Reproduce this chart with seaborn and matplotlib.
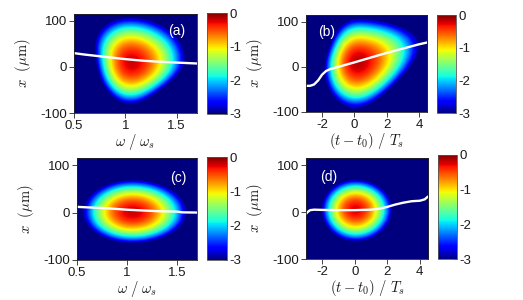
import numpy as np
import matplotlib
matplotlib.use("Agg")
import matplotlib.pyplot as plt
import seaborn as sns

# ---------------- data ----------------
# log10 intensity on coarse grids (values below -3 shown as the darkest colour)
omega_cols = [0.5, 0.65, 0.8, 0.95, 1.1, 1.25, 1.4, 1.55, 1.7]
t_cols = [-3.0, -2.25, -1.5, -0.75, 0.0, 0.75, 1.5, 2.25, 3.0, 3.75, 4.5]

rows_ab = [-100, -70, -40, -10, 20, 50, 80, 110, 140]
rows_cd = [-100, -75, -50, -25, 0, 25, 50, 75, 100, 125]

field_a = [
    [-8, -8, -6.0, -4.2, -4.1, -5.0, -7.0, -8, -8],
    [-8, -7.2, -3.96, -2.3, -2.17, -3.08, -4.9, -7.7, -8],
    [-8, -5.3, -2.43, -0.98, -0.85, -1.44, -2.64, -4.4, -6.9],
    [-8, -4.3, -1.66, -0.30, -0.16, -0.59, -1.46, -2.79, -4.55],
    [-7.3, -3.8, -1.4, -0.21, -0.09, -0.47, -1.26, -2.45, -4.0],
    [-6.3, -3.5, -1.6, -0.63, -0.54, -0.92, -1.68, -2.83, -4.4],
    [-6.2, -3.9, -2.4, -1.6, -1.5, -1.9, -2.6, -3.7, -5.2],
    [-6.9, -5.0, -3.7, -3.0, -3.0, -3.3, -4.1, -5.2, -6.7],
    [-8, -6.96, -5.67, -5.0, -4.96, -5.32, -6.06, -7.17, -8],
]

field_b = [
    [-8, -6.8, -4.9, -3.7, -3.36, -3.68, -4.6, -6.2, -8, -8, -8],
    [-7.9, -5.2, -3.3, -2.16, -1.78, -2.05, -2.86, -4.2, -6.1, -8, -8],
    [-7.1, -4.3, -2.3, -1.1, -0.69, -0.89, -1.5, -2.49, -3.9, -5.7, -7.9],
    [-6.9, -3.9, -1.8, -0.53, -0.11, -0.26, -0.7, -1.43, -2.45, -3.76, -5.4],
    [-7.5, -4.23, -1.9, -0.5, -0.03, -0.14, -0.47, -1.03, -1.8, -2.8, -4.0],
    [-8, -5.4, -2.69, -1.03, -0.48, -0.56, -0.81, -1.23, -1.81, -2.56, -3.48],
    [-8, -6.7, -3.8, -2.06, -1.47, -1.54, -1.74, -2.07, -2.55, -3.16, -3.9],
    [-8, -7.2, -4.9, -3.5, -3.0, -3.07, -3.27, -3.6, -4.1, -4.7, -5.4],
    [-8, -8, -6.9, -5.5, -5.07, -5.14, -5.34, -5.67, -6.15, -6.76, -7.5],
]

field_c = [
    [-8, -8, -7.4, -6.8, -6.7, -7.1, -7.8, -8, -8],
    [-7.2, -5.6, -4.47, -3.86, -3.77, -4.12, -4.88, -6.06, -7.65],
    [-5.16, -3.52, -2.39, -1.79, -1.69, -2.04, -2.8, -3.98, -5.57],
    [-3.9, -2.26, -1.14, -0.53, -0.44, -0.79, -1.55, -2.73, -4.32],
    [-3.49, -1.85, -0.72, -0.12, -0.02, -0.37, -1.13, -2.31, -3.9],
    [-3.85, -2.2, -1.08, -0.47, -0.38, -0.73, -1.49, -2.67, -4.26],
    [-4.9, -3.3, -2.17, -1.56, -1.47, -1.82, -2.58, -3.76, -5.35],
    [-6.7, -5.1, -3.98, -3.37, -3.28, -3.62, -4.39, -5.6, -7.2],
    [-8, -7.6, -6.5, -5.9, -5.8, -6.2, -6.9, -8, -8],
    [-8, -8, -8, -8, -8, -8, -8, -8, -8],
]

field_d = [
    [-8, -8, -8, -6.93, -6.57, -6.87, -7.77, -8, -8, -8, -8],
    [-8, -7.07, -5.26, -4.17, -3.81, -4.11, -5.01, -6.51, -8, -8, -8],
    [-7.6, -5.05, -3.25, -2.16, -1.8, -2.1, -3.0, -4.5, -6.6, -8, -8],
    [-6.33, -3.79, -1.98, -0.9, -0.54, -0.84, -1.74, -3.24, -5.34, -8, -8],
    [-5.8, -3.27, -1.46, -0.38, -0.02, -0.32, -1.22, -2.72, -4.82, -7.5, -8],
    [-6.07, -3.53, -1.72, -0.64, -0.28, -0.58, -1.48, -2.98, -5.08, -7.78, -8],
    [-7.2, -4.65, -2.84, -1.76, -1.4, -1.7, -2.6, -4.1, -6.2, -8, -8],
    [-8, -6.63, -4.82, -3.74, -3.38, -3.68, -4.58, -6.08, -8, -8, -8],
    [-8, -8, -7.65, -6.57, -6.21, -6.51, -7.41, -8, -8, -8, -8],
    [-8, -8, -8, -8, -8, -8, -8, -8, -8, -8, -8],
]

# white centroid curves
line_a_w = [0.5, 0.6, 0.7, 0.8, 0.9, 1.0, 1.1, 1.2, 1.3, 1.4, 1.5, 1.6, 1.7]
line_a_x = [30, 27, 24.5, 22, 19.5, 17, 15, 13.2, 11.8, 10.6, 9.5, 8.5, 7.5]

line_b_t = [-3, -2.75, -2.5, -2.25, -2.0, -1.75, -1.5, -1.0, -0.5, 0, 1, 2, 3, 4, 4.5]
line_b_x = [-42, -42, -39, -30, -17, -9, -5, 0, 5, 10, 20.5, 31, 40.5, 50, 54]

line_c_w = [0.5, 0.6, 0.7, 0.8, 0.9, 1.0, 1.1, 1.2, 1.3, 1.4, 1.5, 1.55, 1.6, 1.7]
line_c_x = [12, 11, 10, 9, 7.5, 6, 5, 4, 3, 2.5, 2, 0.5, 0.3, 0]

line_d_t = [-3, -2.9, -2.75, -2.5, -2, -1, 0, 1, 1.5, 2, 2.5, 3, 3.5, 4, 4.3, 4.5]
line_d_x = [-4, 0, 4, 5, 4.5, 4, 4, 5, 7, 11, 16, 20, 23, 24, 27, 33]

cbar_ticks = [0, -1, -2, -3]
panel_labels = ["(a)", "(b)", "(c)", "(d)"]

# ---------------- style ----------------
sns.set_style("ticks")
plt.rcParams["font.family"] = ["Liberation Sans", "DejaVu Sans"]
plt.rcParams["mathtext.fontset"] = "cm"
plt.rcParams["axes.unicode_minus"] = False

fig = plt.figure(figsize=(5.23, 3.0), dpi=100)

W, H = 523.0, 300.0


def box(l, r, t, b):
    return [l / W, 1 - b / H, (r - l) / W, (b - t) / H]


layout = [
    (box(74, 197, 14, 113), box(207, 227, 13, 114)),
    (box(306, 427, 15, 112), box(437, 456, 15, 113)),
    (box(77, 197, 158, 260), box(207, 227, 157, 260)),
    (box(306, 428, 158, 259), box(438, 457, 155, 259)),
]

panels = [
    (omega_cols, rows_ab, field_a, line_a_w, line_a_x, (0.5, 1.7), [0.5, 1, 1.5], ["0.5", "1", "1.5"],
     r"$\omega\ /\ \omega_s$", (1.5, 78)),
    (t_cols, rows_ab, field_b, line_b_t, line_b_x, (-3, 4.5), [-2, 0, 2, 4], ["-2", "0", "2", "4"],
     r"$(t-t_0)\ /\ T_s$", (-1.7, 78)),
    (omega_cols, rows_cd, field_c, line_c_w, line_c_x, (0.5, 1.7), [0.5, 1, 1.5], ["0.5", "1", "1.5"],
     r"$\omega\ /\ \omega_s$", (1.51, 73)),
    (t_cols, rows_cd, field_d, line_d_t, line_d_x, (-3, 4.5), [-2, 0, 2, 4], ["-2", "0", "2", "4"],
     r"$(t-t_0)\ /\ T_s$", (-1.63, 75)),
]

spine_col = "#262626"
for i, ((cols, rows, field, lx, ly, xlim, xt, xtl, xlab, lab_pos), (apos, cpos)) in enumerate(zip(panels, layout)):
    ax = fig.add_axes(apos)
    cax = fig.add_axes(cpos)
    cols_a = np.asarray(cols, float)
    rows_a = np.asarray(rows, float)
    dc = cols_a[1] - cols_a[0]
    dr = rows_a[1] - rows_a[0]
    ext = [cols_a[0] - dc / 2, cols_a[-1] + dc / 2, rows_a[0] - dr / 2, rows_a[-1] + dr / 2]
    im = ax.imshow(np.asarray(field, float), origin="lower", extent=ext, aspect="auto",
                   cmap="jet", vmin=-3, vmax=0, interpolation="bicubic",
                   interpolation_stage="data")
    sns.lineplot(x=lx, y=ly, ax=ax, color="white", linewidth=1.7)
    ax.set_xlim(*xlim)
    ax.set_ylim(-100, 115)
    ax.set_xticks(xt)
    ax.set_xticklabels(xtl)
    ax.set_yticks([-100, 0, 100])
    ax.set_yticklabels(["-100", "0", "100"])
    ax.tick_params(labelsize=9.5, length=3.5, width=0.6, color=spine_col, pad=1.5,
                   labelcolor="#1a1a1a")
    for s in ax.spines.values():
        s.set_linewidth(0.6)
        s.set_color(spine_col)
    ax.set_xlabel(xlab, fontsize=10.5, labelpad=0, color="#1a1a1a")
    ax.set_ylabel(r"$x\ \ (\mu{\rm m})$", fontsize=10.5, labelpad=5, color="#1a1a1a")
    ax.text(lab_pos[0], lab_pos[1], panel_labels[i], color="white", fontsize=10,
            ha="center", va="center")

    cb = fig.colorbar(im, cax=cax, ticks=cbar_ticks)
    cb.ax.set_yticklabels([str(v) for v in cbar_ticks])
    cb.ax.tick_params(labelsize=9.5, length=2, width=0.5, direction="in", pad=2,
                      labelcolor="#1a1a1a", color="#555555")
    cb.outline.set_linewidth(0.6)
    cb.outline.set_edgecolor("#555555")

fig.savefig("out.png", dpi=100)
